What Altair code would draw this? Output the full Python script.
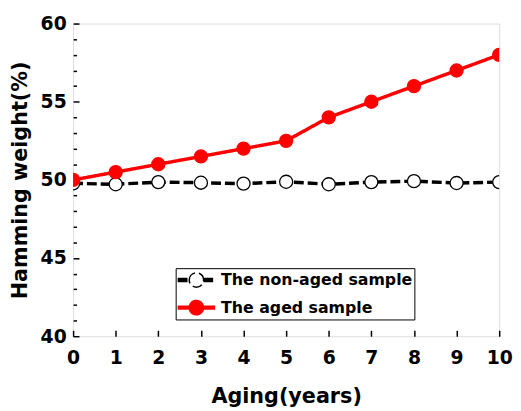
import altair as alt
import pandas as pd

# ---- data ----
years = [0, 1, 2, 3, 4, 5, 6, 7, 8, 9, 10]
non_aged = [49.78, 49.72, 49.86, 49.82, 49.76, 49.88, 49.72, 49.86, 49.92, 49.80, 49.86]
aged = [50.0, 50.5, 51.0, 51.5, 52.0, 52.5, 54.0, 55.0, 56.0, 57.0, 58.0]
series_names = ["The non-aged sample", "The aged sample"]
x_tick_values = [0, 1, 2, 3, 4, 5, 6, 7, 8, 9, 10]
y_label_values = [40, 45, 50, 55, 60]
y_tick_values = list(range(40, 61))

rows = []
for name, vals in zip(series_names, [non_aged, aged]):
    for yr, v in zip(years, vals):
        rows.append({"year": yr, "weight": v, "series": name})
df = pd.DataFrame(rows)

W, H = 432, 317
FONT = "DejaVu Sans"

stroke_scale = alt.Scale(domain=series_names, range=["black", "#ff0000"])
fill_scale = alt.Scale(domain=series_names, range=["white", "#ff0000"])
dash_scale = alt.Scale(domain=series_names, range=[[10, 4], [1, 0]])

x_scale = alt.Scale(domain=[0, 10], nice=False, zero=False)
y_scale = alt.Scale(domain=[40, 60], nice=False, zero=False)

# legend glyph: line stubs with a circle in the middle (unit = 10px at size 400)
legend_symbol = (
    "M-1,-0.15 H0.2 M-1,-0.07 H0.2 M-1,0 H0.2 M-1,0.07 H0.2 M-1,0.15 H0.2 "
    "M1.6,-0.15 H2.8 M1.6,-0.07 H2.8 M1.6,0 H2.8 M1.6,0.07 H2.8 M1.6,0.15 H2.8 "
    "M0.17,0 A0.73,0.73 0 1,1 1.63,0 A0.73,0.73 0 1,1 0.17,0 Z"
)

legend = alt.Legend(
    title=None,
    orient="none",
    legendX=104,
    legendY=248,
    strokeColor="black",
    padding=1,
    rowPadding=6,
    symbolType=legend_symbol,
    symbolSize=400,
    symbolStrokeWidth=1.5,
    labelFont=FONT,
    labelFontWeight="bold",
    labelFontSize=16,
    labelColor="black",
    labelOffset=23,
    labelLimit=0,
)

base = alt.Chart(df)

lines = base.mark_line(strokeWidth=3.5, clip=True).encode(
    x=alt.X("year:Q", scale=x_scale,
            axis=alt.Axis(orient="bottom", values=x_tick_values, ticks=False, domain=False,
                          grid=False, labelFont=FONT, labelFontWeight="bold",
                          labelFontSize=19, labelColor="black", labelPadding=13,
                          title="Aging(years)", titleFont=FONT, titleFontWeight="bold",
                          titleFontSize=21, titleColor="black", titlePadding=18,
                          labelFlush=False)),
    y=alt.Y("weight:Q", scale=y_scale,
            axis=alt.Axis(orient="left", values=y_label_values, ticks=False, domain=False,
                          grid=False, labelFont=FONT, labelFontWeight="bold",
                          labelFontSize=19, labelColor="black", labelPadding=7,
                          title="Hamming weight(%)", titleFont=FONT, titleFontWeight="bold",
                          titleFontSize=21, titleColor="black", titlePadding=10,
                          labelFlush=False)),
    stroke=alt.Stroke("series:N", scale=stroke_scale, legend=legend),
    strokeDash=alt.StrokeDash("series:N", scale=dash_scale, legend=None),
    detail="series:N",
)

points = base.mark_point(filled=False, size=175, strokeWidth=1.3, opacity=1, clip=True).encode(
    x=alt.X("year:Q", scale=x_scale,
            axis=alt.Axis(orient="top", offset=-H, values=x_tick_values, labels=False,
                          domain=False, grid=False, tickSize=6, tickWidth=1.5,
                          tickColor="black", title=None)),
    y=alt.Y("weight:Q", scale=y_scale,
            axis=alt.Axis(orient="right", offset=-W, values=y_tick_values, labels=False,
                          domain=False, grid=False,
                          tickSize={"condition": {"test": "datum.value % 5 === 0", "value": 6},
                                    "value": 3.5},
                          tickWidth=1.5, tickColor="black", title=None)),
    stroke=alt.Stroke("series:N", scale=stroke_scale, legend=legend),
    fill=alt.Fill("series:N", scale=fill_scale, legend=legend),
)

chart = (
    alt.layer(lines, points)
    .resolve_axis(x="independent", y="independent")
    .properties(
        width=W,
        height=H,
        autosize="none",
        padding={"left": 66, "top": 13, "right": 14, "bottom": 71},
    )
    .configure_view(stroke="black", strokeWidth=1.5)
    .configure(background="white")
)

chart.save("out.html", embed_options={"renderer": "svg", "actions": False})
